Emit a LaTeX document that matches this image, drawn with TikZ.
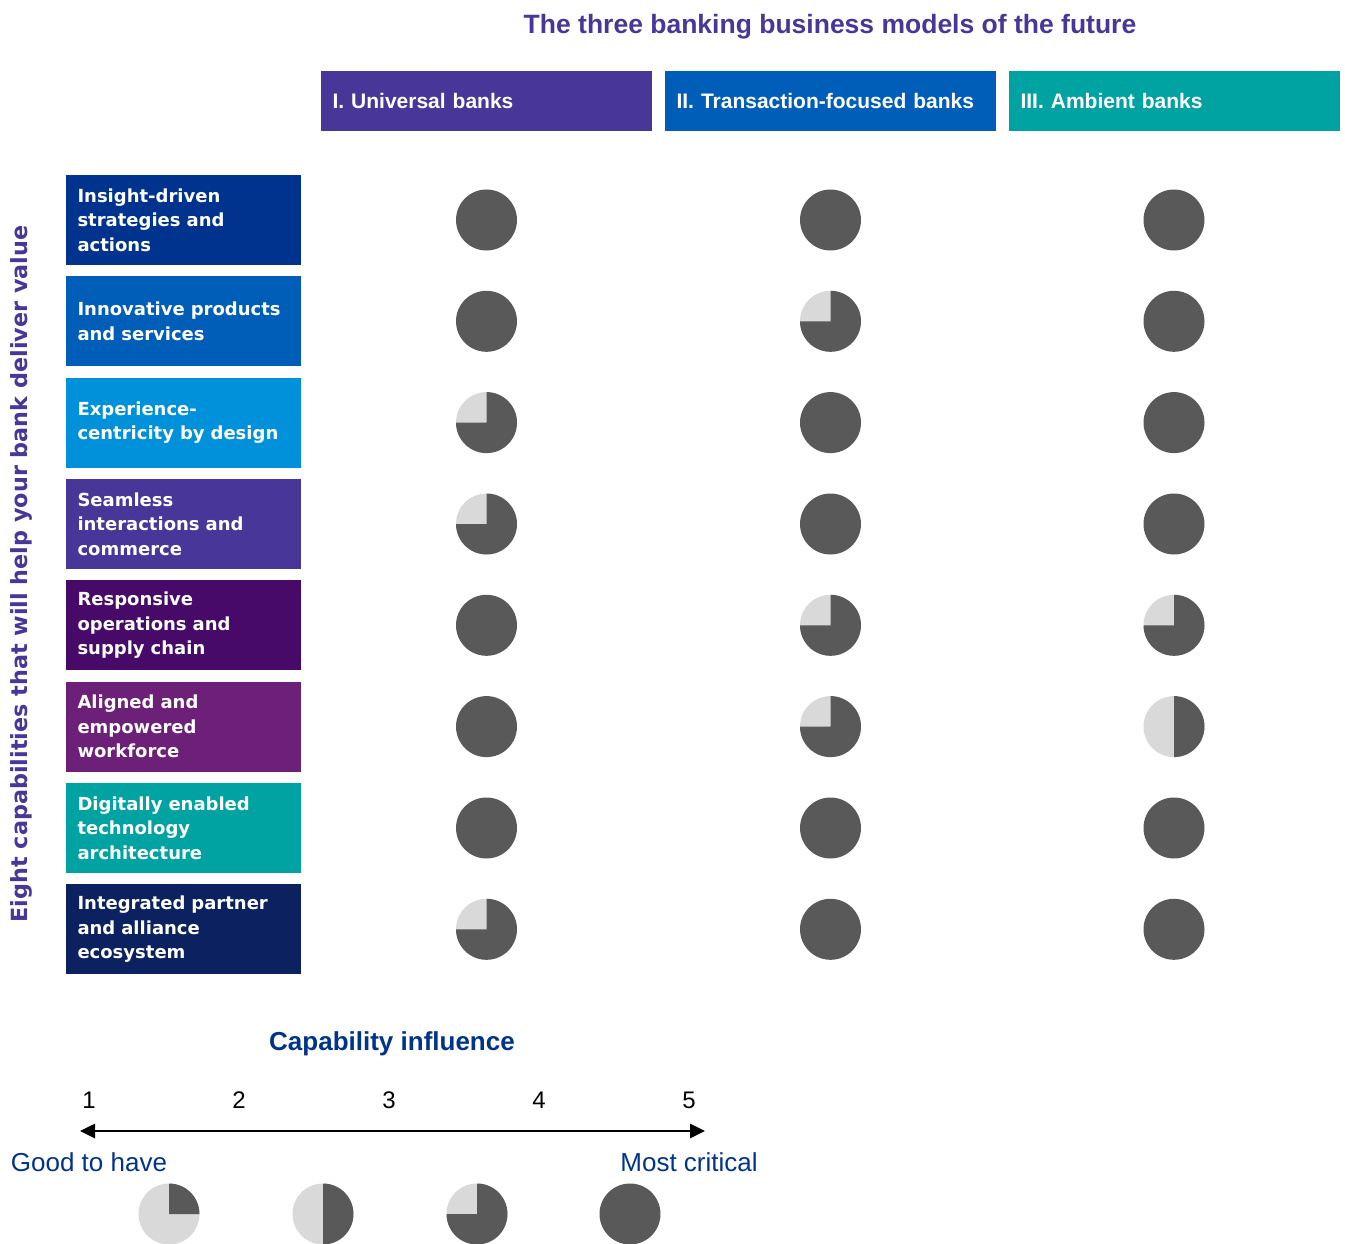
\documentclass[tikz,border=0pt]{standalone}
\usepackage{fontspec}
\setmainfont{Liberation Sans}
\newfontfamily\capfont{DejaVu Sans}
\usetikzlibrary{arrows.meta}
\definecolor{kViolet}{HTML}{483698}
\definecolor{kBlue}{HTML}{00338D}
\definecolor{kMedBlue}{HTML}{005EB8}
\definecolor{kLightBlue}{HTML}{0091DA}
\definecolor{kPurple}{HTML}{470A68}
\definecolor{kMagenta}{HTML}{6D2077}
\definecolor{kTeal}{HTML}{00A3A1}
\definecolor{kNavy}{HTML}{0C2160}
\definecolor{pieDark}{HTML}{595959}
\definecolor{pieLight}{HTML}{D9D9D9}
\tikzset{
  titletext/.style={text=kViolet, font=\bfseries\fontsize{26.5}{30}\selectfont, inner sep=0, anchor=base},
  hdrbox/.style={text=white, font=\bfseries\fontsize{21}{25}\selectfont, minimum height=60pt,
    text width=307pt, inner xsep=12pt, inner ysep=0pt, align=left},
  capbox/.style={text=white, font=\capfont\bfseries\fontsize{18}{24.5}\selectfont, minimum height=90pt,
    text width=211pt, inner xsep=12pt, inner ysep=0pt, align=left},
  vlabel/.style={text=kViolet, font=\capfont\bfseries\fontsize{22.3}{26}\selectfont, rotate=90, inner sep=0},
  legtitle/.style={text=kBlue, font=\bfseries\fontsize{26}{30}\selectfont, inner sep=0, anchor=base},
  numtext/.style={text=black, font=\fontsize{24}{28}\selectfont, inner sep=0},
  endtext/.style={text=kBlue, font=\fontsize{26}{30}\selectfont, inner sep=0},
  scalearrow/.style={line width=2.6pt, {Triangle[length=15pt,width=14pt]}-{Triangle[length=15pt,width=14pt]}},
  pics/full/.style={code={\fill[pieDark] (0,0) circle[radius=30.5];}},
  pics/threeq/.style={code={\fill[pieLight] (0,0) circle[radius=30.5];
     \fill[pieDark] (0,0) -- (90:30.5) arc[start angle=90,end angle=-180,radius=30.5] -- cycle;}},
  pics/half/.style={code={\fill[pieLight] (0,0) circle[radius=30.5];
     \fill[pieDark] (0,0) -- (90:30.5) arc[start angle=90,end angle=-90,radius=30.5] -- cycle;}},
  pics/quarter/.style={code={\fill[pieLight] (0,0) circle[radius=30.5];
     \fill[pieDark] (0,0) -- (90:30.5) arc[start angle=90,end angle=0,radius=30.5] -- cycle;}},
}
\begin{document}
\begin{tikzpicture}[x=1pt,y=1pt]
\useasboundingbox (0,0) rectangle (1345,-1244);

\node[titletext] (title) at (830,-34) {The three banking business models of the future};

\node[hdrbox, fill=kViolet] (h1) at (486,-101) {I. Universal banks};
\node[hdrbox, fill=kMedBlue] (h2) at (830,-101) {II. Transaction-focused banks};
\node[hdrbox, fill=kTeal] (h3) at (1174,-101) {III. Ambient banks};

\node[vlabel] (vlab) at (21,-574) {Eight capabilities that will help your bank deliver value};

\node[capbox, fill=kBlue] (c1) at (183,-220) {Insight-driven\\strategies and\\actions};
\node[capbox, fill=kMedBlue] (c2) at (183,-321.3) {Innovative products\\and services};
\node[capbox, fill=kLightBlue] (c3) at (183,-422.6) {Experience-\\centricity by design};
\node[capbox, fill=kViolet] (c4) at (183,-524) {Seamless\\interactions and\\commerce};
\node[capbox, fill=kPurple] (c5) at (183,-625.3) {Responsive\\operations and\\supply chain};
\node[capbox, fill=kMagenta] (c6) at (183,-726.6) {Aligned and\\empowered\\workforce};
\node[capbox, fill=kTeal] (c7) at (183,-828) {Digitally enabled\\technology\\architecture};
\node[capbox, fill=kNavy] (c8) at (183,-929.3) {Integrated partner\\and alliance\\ecosystem};

% row 1
\pic at (486.5,-220) {full};   \pic at (830.5,-220) {full};   \pic at (1174,-220) {full};
% row 2
\pic at (486.5,-321.3) {full}; \pic at (830.5,-321.3) {threeq}; \pic at (1174,-321.3) {full};
% row 3
\pic at (486.5,-422.6) {threeq}; \pic at (830.5,-422.6) {full}; \pic at (1174,-422.6) {full};
% row 4
\pic at (486.5,-524) {threeq}; \pic at (830.5,-524) {full}; \pic at (1174,-524) {full};
% row 5
\pic at (486.5,-625.3) {full}; \pic at (830.5,-625.3) {threeq}; \pic at (1174,-625.3) {threeq};
% row 6
\pic at (486.5,-726.6) {full}; \pic at (830.5,-726.6) {threeq}; \pic at (1174,-726.6) {half};
% row 7
\pic at (486.5,-828) {full}; \pic at (830.5,-828) {full}; \pic at (1174,-828) {full};
% row 8
\pic at (486.5,-929.3) {threeq}; \pic at (830.5,-929.3) {full}; \pic at (1174,-929.3) {full};

% legend
\node[legtitle] (lt) at (392,-1050) {Capability influence};
\node[numtext] (n1) at (89,-1100) {1};
\node[numtext] (n2) at (239,-1100) {2};
\node[numtext] (n3) at (389,-1100) {3};
\node[numtext] (n4) at (539,-1100) {4};
\node[numtext] (n5) at (689,-1100) {5};
\coordinate (al) at (80,-1131);
\coordinate (ar) at (705,-1131);
\draw[scalearrow] (al) -- (ar);
\node[endtext] (good) at (89,-1162) {Good to have};
\node[endtext] (most) at (689,-1162) {Most critical};

\pic at (169,-1214) {quarter};
\pic at (323,-1214) {half};
\pic at (477,-1214) {threeq};
\pic at (630,-1214) {full};
\end{tikzpicture}
\end{document}
